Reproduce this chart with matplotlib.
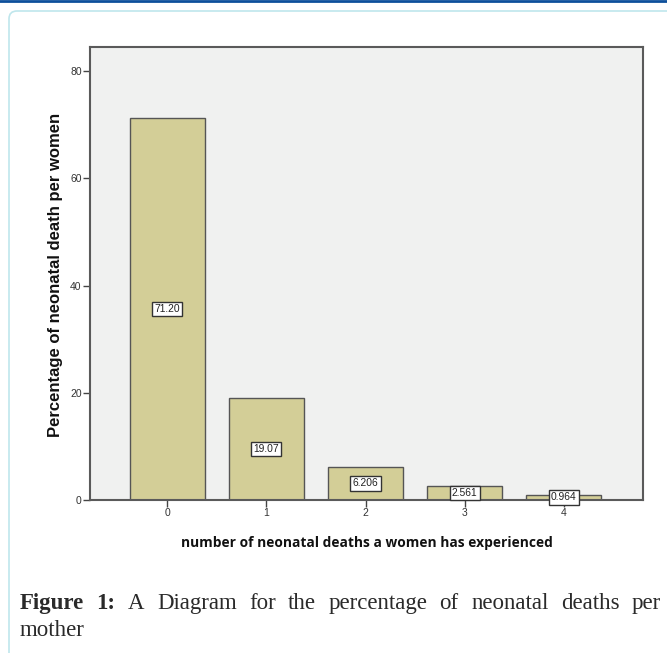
import matplotlib
matplotlib.use("Agg")
import matplotlib.pyplot as plt
from matplotlib.patches import FancyBboxPatch
from matplotlib.lines import Line2D

categories = ["0", "1", "2", "3", "4"]
values = [71.20, 19.07, 6.206, 2.561, 0.964]
value_labels = ["71.20", "19.07", "6.206", "2.561", "0.964"]
yticks = [0, 20, 40, 60, 80]

W, H = 667, 653
fig = plt.figure(figsize=(W / 100, H / 100), dpi=100)

def fx(px):
    return px / W

def fy(py):
    return 1 - py / H

# top blue rule
fig.add_artist(Line2D([0, 1], [fy(1), fy(1)], color="#0d4f9b", lw=2, transform=fig.transFigure))
# rounded container border
box = FancyBboxPatch((fx(9), fy(700)), fx(700), fy(11) - fy(700),
                     boxstyle="round,pad=0,rounding_size=0.012",
                     transform=fig.transFigure, facecolor="white",
                     edgecolor="#bfe6ec", lw=1.2, zorder=0)
fig.add_artist(box)

left, right, top, bottom = 90, 643, 47, 500
ax = fig.add_axes([fx(left), fy(bottom), fx(right) - fx(left), fy(top) - fy(bottom)])
ax.set_facecolor("#f0f1f0")
x = list(range(len(categories)))
ax.bar(x, values, width=0.76, color="#d3ce97", edgecolor="#555555", linewidth=1.0, zorder=2)
ax.set_xlim(-0.78, 4.8)
ax.set_ylim(0, 84.5)
ax.set_xticks(x)
ax.set_xticklabels(categories, fontsize=7.5, color="#333333", family="Liberation Sans")
ax.set_yticks(yticks)
ax.set_yticklabels([str(t) for t in yticks], fontsize=7.5, color="#333333", family="Liberation Sans")
ax.tick_params(axis="both", length=5, width=1.0, color="#444444", pad=1)
for s in ax.spines.values():
    s.set_color("#5a5a5a")
    s.set_linewidth(1.5)

for xi, v, lab in zip(x, values, value_labels):
    ax.text(xi, v / 2, lab, ha="center", va="center", fontsize=7.4,
            family="Liberation Sans", color="#222222", zorder=5,
            bbox=dict(boxstyle="square,pad=0.22", facecolor="white", edgecolor="#333333", lw=1.0))

fig.text(fx(56), fy(275), "Percentage of neonatal death per women", rotation=90,
         ha="center", va="center", fontsize=12, fontweight="bold", family="Liberation Sans",
         color="#111111")
fig.text(fx(367), fy(543), "number of neonatal deaths a women has experienced",
         ha="center", va="center", fontsize=9.9, fontweight="bold", family="Open Sans",
         color="#111111")

# caption, first line justified
fig.canvas.draw()
renderer = fig.canvas.get_renderer()
words1 = [("Figure", True), ("1:", True), ("A", False), ("Diagram", False), ("for", False),
          ("the", False), ("percentage", False), ("of", False), ("neonatal", False),
          ("deaths", False), ("per", False)]
cap_size = 16.5
cap_color = "#2a2a2a"
x0, x1 = 20, 661
texts = []
widths = []
for w, b in words1:
    t = fig.text(0, fy(609), w, fontsize=cap_size, family="Liberation Serif",
                 fontweight="bold" if b else "normal", color=cap_color, va="baseline")
    texts.append(t)
    widths.append(t.get_window_extent(renderer).width)
gap = (x1 - x0 - sum(widths)) / (len(words1) - 1)
cur = x0
for t, wd in zip(texts, widths):
    t.set_x(fx(cur))
    cur += wd + gap
fig.text(fx(x0), fy(636), "mother", fontsize=cap_size, family="Liberation Serif",
         color=cap_color, va="baseline")

fig.savefig("out.png", dpi=100)
